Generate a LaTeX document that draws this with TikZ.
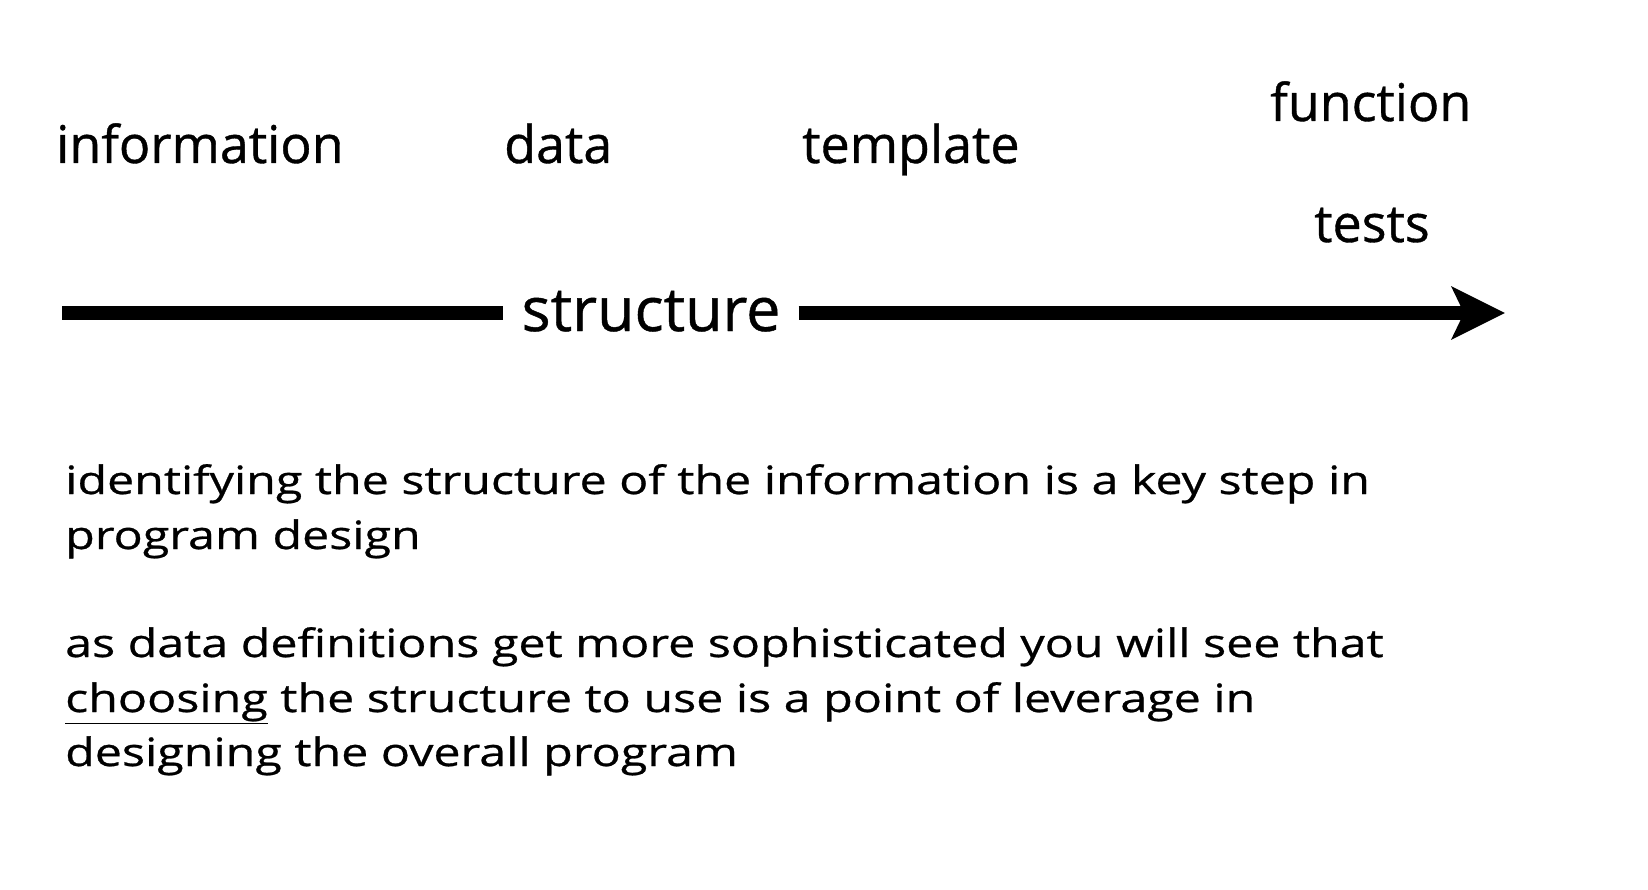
\documentclass[tikz,border=0pt]{standalone}
\usepackage{fontspec}
\setmainfont[FakeBold=0.7]{Open Sans}
\newfontfamily\lblfont[FakeBold=0.7]{Open Sans}
\newfontfamily\bodyfont[FakeStretch=1.24,FakeBold=0.7]{Open Sans}
\usetikzlibrary{arrows.meta}
\begin{document}
\begin{tikzpicture}[x=1pt,y=-1pt,
  lbl/.style={inner sep=0pt,anchor=base west,font=\lblfont\fontsize{52}{60}\selectfont},
  body/.style={inner sep=0pt,anchor=base west,font=\bodyfont\fontsize{39}{54.6}\selectfont},
  bar/.style={line width=14pt}]
\useasboundingbox[fill=white] (0,0) rectangle (1648,890);
\node[lbl] (info) at (56,163) {information};
\node[lbl] (data) at (504,163) {data};
\node[lbl] (tmpl) at (802,163) {template};
\node[lbl] (func) at (1270,121) {function};
\node[lbl] (tests) at (1314,242) {tests};
\node[inner xsep=18pt,inner ysep=0pt,anchor=base,font=\lblfont\fontsize{61}{70}\selectfont] (struct) at (651,331) {structure};
\coordinate (start) at (62,313);
\coordinate (end) at (1505,313);
\draw[bar] (start) -- (start -| struct.west);
\draw[bar,-{Stealth[length=53pt,width=52pt,inset=12pt]}] (end -| struct.east) -- (end);
\node[body] (l1) at (65,494) {identifying the structure of the information is a key step in};
\node[body] (l2) at (65,549) {program design};
\node[body] (l3) at (65,657) {as data definitions get more sophisticated you will see that};
\node[body] (l4) at (65,712) {\underline{choosing} the structure to use is a point of leverage in};
\node[body] (l5) at (65,766) {designing the overall program};
\end{tikzpicture}
\end{document}
